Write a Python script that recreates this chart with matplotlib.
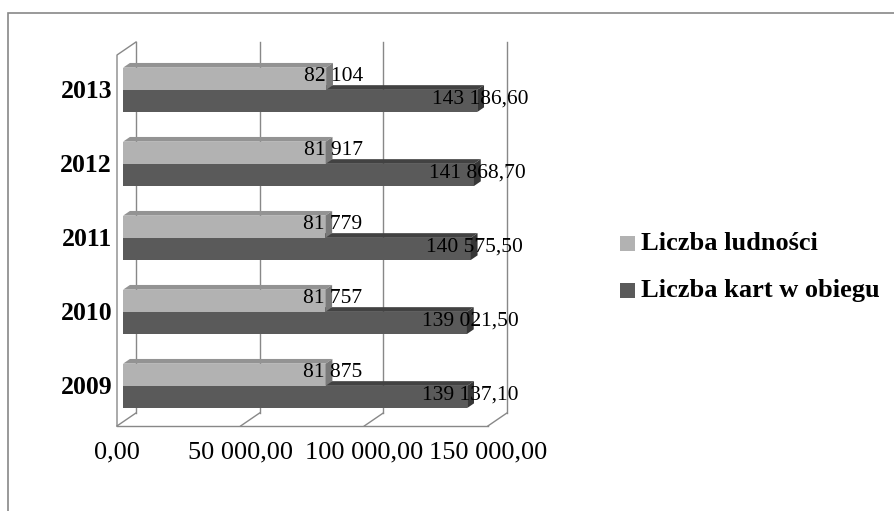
import matplotlib
matplotlib.use("Agg")
import matplotlib.pyplot as plt
from matplotlib.patches import Polygon, Rectangle

# dane
lata = ["2009", "2010", "2011", "2012", "2013"]
ludnosc = [81875, 81757, 81779, 81917, 82104]
karty = [139137.10, 139021.50, 140575.50, 141868.70, 143186.60]
ticki = [0, 50000, 100000, 150000]
tick_etykiety = ["0,00", "50 000,00", "100 000,00", "150 000,00"]

plt.rcParams["font.family"] = ["Liberation Serif", "DejaVu Serif"]

C_LIGHT = ("#b2b2b2", "#939393", "#7a7a7a")   # przód, góra, bok
C_DARK = ("#5a5a5a", "#424242", "#363636")
GRID = "#888888"

# pseudo-3D: przesunięcie głębi w jednostkach danych
K = 0.002473            # piksele na jednostkę wartości
DX = 19 / K             # głębokość w poziomie
DY = 13 / 74            # głębokość w pionie (jednostki kategorii)
D0, D1 = 0.32, 0.68     # zakres głębokości słupków
H = 0.30                # wysokość słupka
C_FLOOR, C_TOP = -0.486, 4.527


def pt(v, c, d):
    return (v + d * DX, c + d * DY)


def fmt(v, dec):
    s = f"{v:,.{dec}f}".replace(",", " ").replace(".", ",")
    return s


fig = plt.figure(figsize=(8.94, 5.11), dpi=100)
fig.patches.append(Rectangle((8 / 894, -0.1), 2, (511 - 13) / 511 + 0.1,
                             transform=fig.transFigure, fill=False,
                             edgecolor="#888888", linewidth=1.2))

ax = fig.add_axes([100 / 894, (511 - 440) / 511, 460 / 894, 410 / 511])
ax.set_xlim((100 - 117) / K, (560 - 117) / K)
ax.set_ylim((390 - 440) / 74, (390 - 30) / 74)
ax.axis("off")

# ściany i podłoga
lw = 1.0
for v in ticki:
    ax.plot(*zip(pt(v, C_FLOOR, 0), pt(v, C_FLOOR, 1)), color=GRID, lw=lw)
    ax.plot(*zip(pt(v, C_FLOOR, 1), pt(v, C_TOP, 1)), color=GRID, lw=lw)
ax.plot(*zip(pt(0, C_FLOOR, 0), pt(ticki[-1], C_FLOOR, 0)), color=GRID, lw=lw)
ax.plot(*zip(pt(0, C_FLOOR, 0), pt(0, C_TOP, 0), pt(0, C_TOP, 1)), color=GRID, lw=lw)


def slupek(val, cb, kolory):
    ct = cb + H
    front, top, side = kolory
    ax.barh(cb + D0 * DY, val, height=H, left=D0 * DX, align="edge",
            color=front, linewidth=0, zorder=3)
    ax.add_patch(Polygon([pt(0, ct, D0), pt(val, ct, D0), pt(val, ct, D1), pt(0, ct, D1)],
                         closed=True, facecolor=top, linewidth=0, zorder=3))
    ax.add_patch(Polygon([pt(val, cb, D0), pt(val, cb, D1), pt(val, ct, D1), pt(val, ct, D0)],
                         closed=True, facecolor=side, linewidth=0, zorder=3))


for i, rok in enumerate(lata):
    slupek(karty[i], i - H / 1, C_DARK)
    slupek(ludnosc[i], i, C_LIGHT)
    x, y = pt(ludnosc[i], i + H / 2, 0.5)
    ax.text(x + 4 / K, y, fmt(ludnosc[i], 0), ha="center", va="center",
            fontsize=15.5, zorder=5)
    x, y = pt(karty[i], i - H / 2, 0.5)
    ax.text(x, y, fmt(karty[i], 2), ha="center", va="center",
            fontsize=15.5, zorder=5)
    ax.text(-5 / K, i + 0.04, rok, ha="right", va="center",
            fontsize=18.5, fontweight="bold")

for v, lab in zip(ticki, tick_etykiety):
    ax.text(v, (390 - 458) / 74, lab, ha="center", va="baseline", fontsize=19)

# legenda
for j, (nazwa, kol) in enumerate([("Liczba ludności", C_LIGHT[0]),
                                  ("Liczba kart w obiegu", C_DARK[0])]):
    yc = 243 + j * 47
    fig.patches.append(Rectangle((620 / 894, (511 - yc - 8) / 511), 15 / 894, 15 / 511,
                                 transform=fig.transFigure, facecolor=kol,
                                 edgecolor="none"))
    fig.text(641 / 894, (511 - yc) / 511, nazwa, ha="left", va="center",
             fontsize=19, fontweight="bold")

fig.savefig("out.png", dpi=100)
